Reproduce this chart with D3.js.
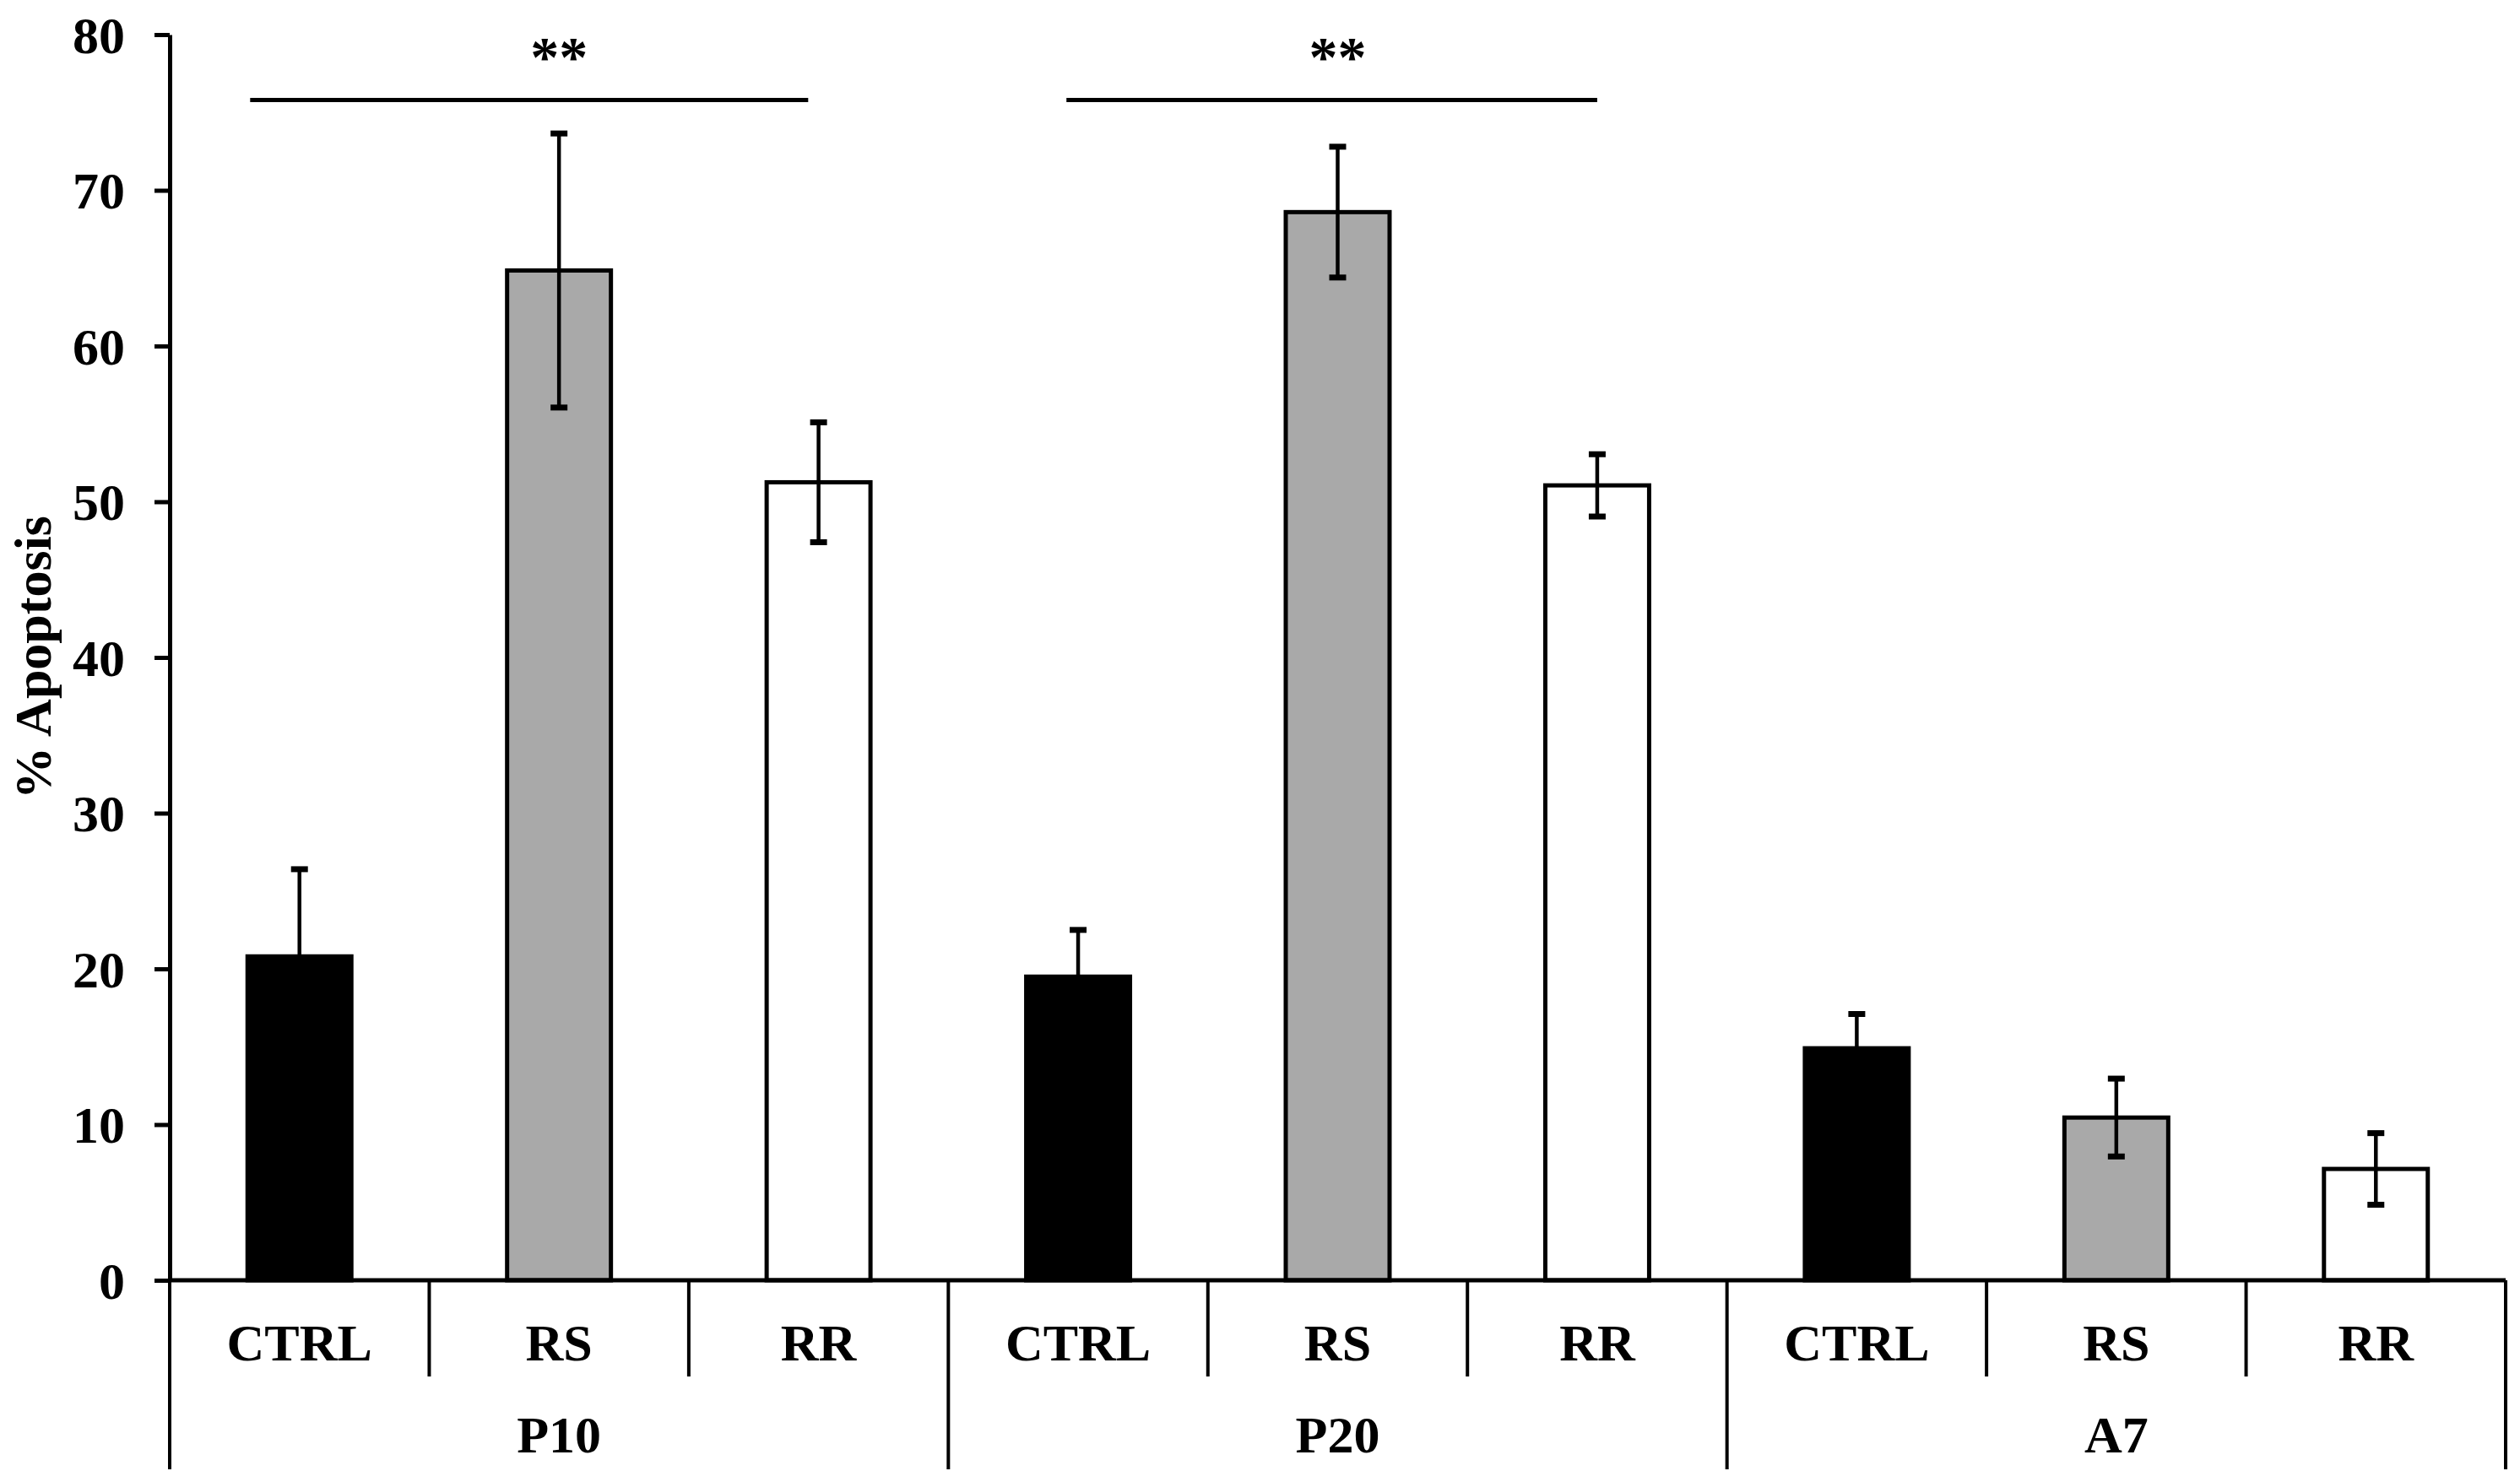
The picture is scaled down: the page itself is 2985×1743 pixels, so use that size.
<!DOCTYPE html>
<html>
<head>
<meta charset="utf-8">
<script src="https://cdn.jsdelivr.net/npm/d3@7"></script>
<style>
  body { margin: 0; background: #fff; }
  text { font-family: "Liberation Serif", "Times New Roman", serif; font-weight: bold; fill: #000; }
</style>
</head>
<body>
<svg id="chart"></svg>
<script>
// data
const groups = ["P10", "P20", "A7"];
const conditions = ["CTRL", "RS", "RR"];
const means = [
  [20.8, 64.85, 51.25],
  [19.5, 68.6, 51.05],
  [14.9, 10.45, 7.15]
];
const errors = [
  [5.6, 8.8, 3.85],
  [3.0, 4.2, 2.0],
  [2.2, 2.5, 2.3]
];
const yTicks = [0, 10, 20, 30, 40, 50, 60, 70, 80];
const significance = [
  { group: "P10", from: "CTRL", mid: "RS", to: "RR", level: 75.8, label: "**" },
  { group: "P20", from: "CTRL", mid: "RS", to: "RR", level: 75.8, label: "**" }
];

const fills = { CTRL: "#000000", RS: "#a9a9a9", RR: "#ffffff" };
const fontSize = 62;

const width = 2985,
  height = 1743;
const margin = { top: 41, right: 17, bottom: 226, left: 201 };

const svg = d3.select("#chart").attr("width", width).attr("height", height);

const rows = [];
groups.forEach((g, gi) =>
  conditions.forEach((c, ci) =>
    rows.push({ key: g + "|" + c, group: g, cond: c, mean: means[gi][ci], err: errors[gi][ci] })
  )
);

const x = d3
  .scaleBand()
  .domain(rows.map(d => d.key))
  .range([margin.left, width - margin.right])
  .paddingInner(0)
  .paddingOuter(0);

const y = d3
  .scaleLinear()
  .domain([0, 80])
  .range([height - margin.bottom, margin.top]);

const bw = x.bandwidth();
const barW = bw * 0.4;
const y0 = y(0);

// y axis
const yAxis = svg
  .append("g")
  .attr("transform", `translate(${margin.left},0)`)
  .call(
    d3.axisLeft(y)
      .tickValues(yTicks)
      .tickFormat(d3.format("d"))
      .tickSize(18)
      .tickSizeOuter(0)
      .tickPadding(35)
  );
yAxis.select(".domain").attr("stroke", "#000").attr("stroke-width", 5);
yAxis.selectAll(".tick line").attr("stroke", "#000").attr("stroke-width", 5);
yAxis
  .selectAll(".tick text")
  .attr("font-size", fontSize)
  .attr("font-family", '"Liberation Serif", "Times New Roman", serif')
  .attr("font-weight", "bold")
  .attr("dy", "0.34em");

svg
  .append("text")
  .attr("transform", `translate(60,${(y(0) + y(80)) / 2}) rotate(-90)`)
  .attr("text-anchor", "middle")
  .attr("font-size", fontSize)
  .text("% Apoptosis");

// bars
const bars = svg.append("g");
bars
  .selectAll("rect")
  .data(rows)
  .join("rect")
  .attr("x", d => x(d.key) + (bw - barW) / 2)
  .attr("y", d => y(d.mean))
  .attr("width", barW)
  .attr("height", d => y0 - y(d.mean))
  .attr("fill", d => fills[d.cond])
  .attr("stroke", "#000")
  .attr("stroke-width", 5);

// error bars
const eb = svg.append("g").attr("stroke", "#000");
const cx = d => x(d.key) + bw / 2;
eb.selectAll("line.v")
  .data(rows)
  .join("line")
  .attr("class", "v")
  .attr("x1", cx)
  .attr("x2", cx)
  .attr("y1", d => y(d.mean + d.err))
  .attr("y2", d => y(d.mean - d.err))
  .attr("stroke-width", 4.5);
eb.selectAll("line.cap")
  .data(rows.flatMap(d => [d.mean + d.err, d.mean - d.err].map(v => ({ key: d.key, v }))))
  .join("line")
  .attr("class", "cap")
  .attr("x1", d => cx(d) - 10)
  .attr("x2", d => cx(d) + 10)
  .attr("y1", d => y(d.v))
  .attr("y2", d => y(d.v))
  .attr("stroke-width", 7);

// category axis (two levels)
const xAxis = svg.append("g").attr("stroke", "#000");
xAxis
  .append("line")
  .attr("x1", margin.left)
  .attr("x2", width - margin.right)
  .attr("y1", y0)
  .attr("y2", y0)
  .attr("stroke-width", 5);

const bounds = d3.range(rows.length + 1).map(i => margin.left + i * bw);
xAxis
  .selectAll("line.sep")
  .data(bounds)
  .join("line")
  .attr("class", "sep")
  .attr("x1", d => d)
  .attr("x2", d => d)
  .attr("y1", y0)
  .attr("y2", (d, i) => (i % conditions.length === 0 ? 1741 : 1631))
  .attr("stroke-width", 4);

svg
  .append("g")
  .selectAll("text")
  .data(rows)
  .join("text")
  .attr("x", cx)
  .attr("y", 1612)
  .attr("text-anchor", "middle")
  .attr("font-size", fontSize)
  .text(d => d.cond);

svg
  .append("g")
  .selectAll("text")
  .data(groups)
  .join("text")
  .attr("x", g => x(g + "|" + conditions[1]) + bw / 2)
  .attr("y", 1721)
  .attr("text-anchor", "middle")
  .attr("font-size", fontSize)
  .text(g => g);

// significance brackets
const sigSpan = [[-0.19, -0.04], [-0.045, 0]]; // offsets from band centres, in bands
const sig = svg.append("g");
significance.forEach((s, i) => {
  const xa = x(s.group + "|" + s.from) + bw / 2 + sigSpan[i][0] * bw;
  const xb = x(s.group + "|" + s.to) + bw / 2 + sigSpan[i][1] * bw;
  sig
    .append("line")
    .attr("x1", xa)
    .attr("x2", xb)
    .attr("y1", y(s.level))
    .attr("y2", y(s.level))
    .attr("stroke", "#000")
    .attr("stroke-width", 5);
  sig
    .append("text")
    .attr("x", x(s.group + "|" + s.mid) + bw / 2)
    .attr("y", y(s.level) - 28)
    .attr("text-anchor", "middle")
    .attr("font-size", 68)
    .text(s.label);
});
</script>
</body>
</html>
